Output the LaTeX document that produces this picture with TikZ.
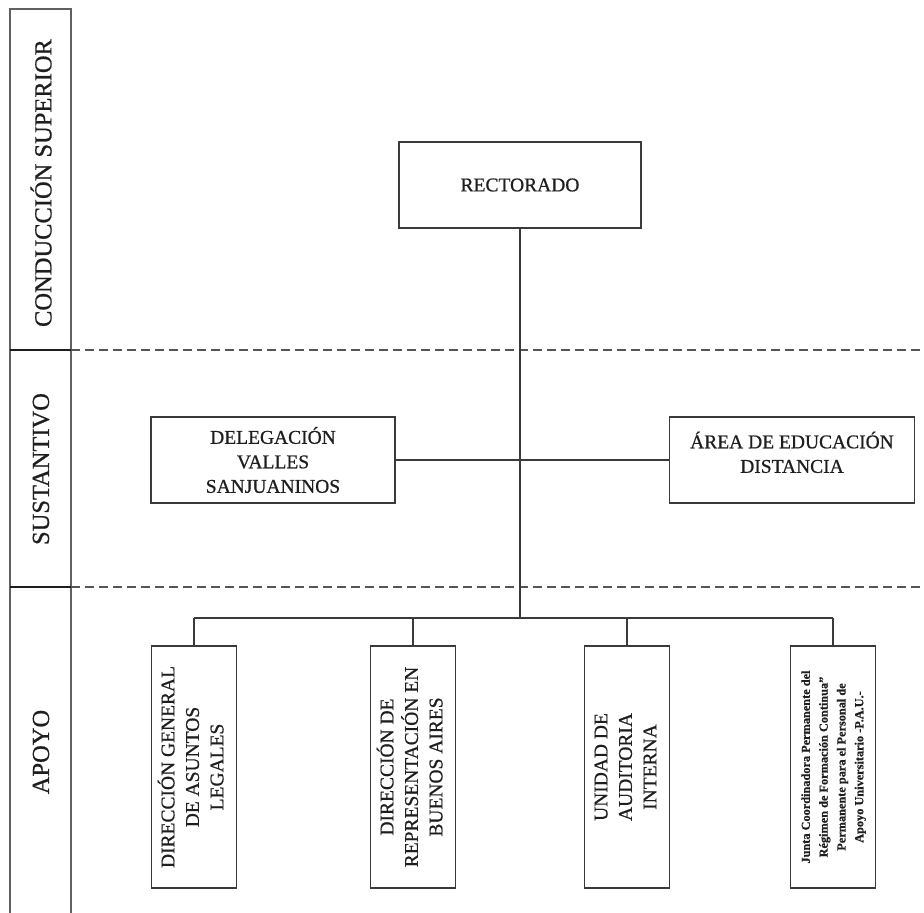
\documentclass[tikz,border=0pt]{standalone}
\usepackage{fontspec}
\usepackage{graphicx}
\setmainfont{Liberation Serif}
\newfontfamily\heavy[FakeBold=0.7]{Liberation Serif}
\definecolor{ink}{HTML}{1E1E1E}
\definecolor{rule}{HTML}{3A3A3A}
\definecolor{dashcol}{HTML}{555555}

% Text sizes used in the chart
\newcommand{\bigtxt}{\heavy\fontsize{19.5}{24.5}\selectfont}
\newcommand{\tagtxt}{\heavy\fontsize{24.5}{28}\selectfont}
\newcommand{\smalltxt}{\fontsize{12.3}{17.8}\selectfont\bfseries}
% Vertical multi-line label
\newcommand{\vlabel}[1]{\rotatebox{90}{\begin{tabular}{@{}c@{}}#1\end{tabular}}}

\begin{document}
\begin{tikzpicture}[x=1pt,y=-1pt,
  unitbox/.style={draw=rule, line width=1.4pt, inner sep=0pt, text=ink,
    align=center, font=\bigtxt},
  hbox/.style={unitbox, minimum width=244pt, minimum height=86pt},
  vbox/.style={unitbox, minimum width=85pt, minimum height=242pt},
  link/.style={draw=rule, line width=1.4pt},
  band/.style={draw=dashcol, line width=1.3pt, dash pattern=on 9pt off 5pt},
  tag/.style={rotate=90, text=ink, font=\tagtxt, inner sep=0pt}]

\useasboundingbox (0,0) rectangle (924,913);

% Left column with the three levels
\draw[draw=rule!80, line width=1.4pt] (10,916) -- (10,9) -- (71,9) -- (71,916);
\draw[draw=ink, line width=1.8pt] (10,350) -- (71,350);
\draw[draw=ink, line width=1.8pt] (10,587) -- (71,587);
\node[tag] (lvl1) at (41,183) {CONDUCCIÓN SUPERIOR};
\node[tag] (lvl2) at (41,469) {SUSTANTIVO};
\node[tag] (lvl3) at (41,752) {APOYO};

% Dashed separators between levels
\draw[band] (71,350) -- (924,350);
\draw[band] (71,587) -- (924,587);

% Top level
\node[hbox, minimum width=242pt] (rect) at (520,185) {RECTORADO};

% Middle level
\node[hbox] (deleg) at (273,460) {DELEGACIÓN\\VALLES\\SANJUANINOS};
\node[hbox, minimum width=245pt] (ead) at (792,460)
  {\raisebox{28pt}{\begin{tabular}{@{}c@{}}ÁREA DE EDUCACIÓN\\DISTANCIA\end{tabular}}};

% Support level
\node[vbox] (legal) at (194,767) {\vlabel{DIRECCIÓN GENERAL\\DE ASUNTOS\\LEGALES}};
\node[vbox] (bsas) at (413,767) {\vlabel{DIRECCIÓN DE\\REPRESENTACIÓN EN\\BUENOS AIRES}};
\node[vbox] (audit) at (627,767) {\vlabel{UNIDAD DE\\AUDITORIA\\INTERNA}};
\node[vbox] (pau) at (833,767)
  {\smalltxt\vlabel{Junta Coordinadora Permanente del\\Régimen de Formación Continua”\\Permanente para el Personal de\\Apoyo Universitario -P.A.U.-}};

% Connectors
\coordinate (bus) at (520,618);
\coordinate (mid) at (520,460);
\draw[link] (rect.south) -- (bus);
\draw[link] (deleg.east) -- (mid) -- (ead.west);
\draw[link] (legal.north |- bus) -- (pau.north |- bus);
\foreach \b in {legal,bsas,audit,pau}
  \draw[link] (\b.north |- bus) -- (\b.north);
\end{tikzpicture}
\end{document}
